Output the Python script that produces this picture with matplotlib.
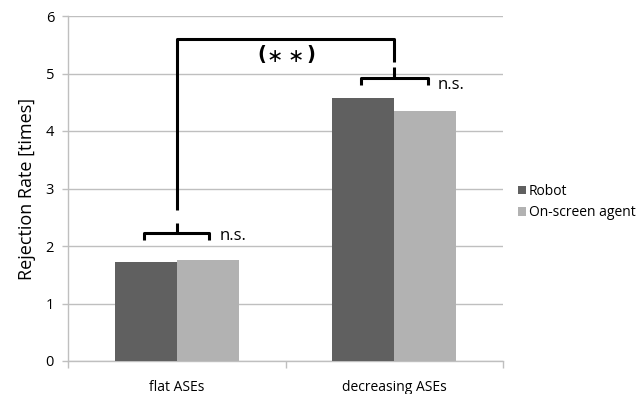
import matplotlib
matplotlib.use("Agg")
import matplotlib.pyplot as plt
import numpy as np

categories = ["flat ASEs", "decreasing ASEs"]
series_names = ["Robot", "On-screen agent"]
robot = [1.73, 4.58]
agent = [1.75, 4.35]
y_ticks = [0, 1, 2, 3, 4, 5, 6]

colors = ["#606060", "#b2b2b2"]
grid_color = "#bfbfbf"

fig = plt.figure(figsize=(6.4, 3.94), dpi=100)
ax = fig.add_axes([68 / 640, 33 / 394, 435 / 640, 345 / 394])

x = np.arange(len(categories))
w = 0.285
ax.bar(x - w / 2, robot, w, color=colors[0], label=series_names[0], zorder=3)
ax.bar(x + w / 2, agent, w, color=colors[1], label=series_names[1], zorder=3)

ax.set_xlim(-0.5, 1.5)
ax.set_ylim(0, 6)
ax.set_yticks(y_ticks)
ax.set_yticklabels([str(t) for t in y_ticks], fontsize=10.5, family="Open Sans")
ax.set_xticks(x)
ax.set_xticklabels(categories, fontsize=10, family="Open Sans")
ax.set_xticks([-0.5, 0.5, 1.5], minor=True)
ax.tick_params(axis="x", which="major", length=0, pad=14)
ax.tick_params(axis="x", which="minor", length=5, color=grid_color, width=1)
ax.tick_params(axis="y", length=4, color=grid_color, width=1, pad=6)
ax.yaxis.grid(True, color=grid_color, lw=1, zorder=0)
for s in ["top", "right"]:
    ax.spines[s].set_visible(False)
for s in ["left", "bottom"]:
    ax.spines[s].set_color(grid_color)
    ax.spines[s].set_linewidth(1)

ax.set_ylabel("Rejection Rate [times]", fontsize=13, family="Open Sans", labelpad=7)

lw = 2.2
kw = dict(color="black", lw=lw, solid_capstyle="butt", solid_joinstyle="round",
          zorder=5, clip_on=False)


def brace(cx, half, y_bar, y_end, y_tip):
    ax.plot([cx - half, cx - half, cx + half, cx + half],
            [y_end, y_bar, y_bar, y_end], **kw)
    ax.plot([cx, cx], [y_bar, y_tip], **kw)


# within-condition braces
brace(x[0], 0.15, 2.23, 2.10, 2.40)
brace(x[1], 0.155, 4.92, 4.80, 5.11)

# between-condition bracket
ax.plot([x[0], x[0], x[1], x[1]], [2.63, 5.605, 5.605, 5.20], **kw)

# significance mark, drawn glyph by glyph for wide spacing
sig_glyphs = ["(", "*", "*", ")"]
sig_x = [0.392, 0.452, 0.549, 0.618]
for g, gx in zip(sig_glyphs, sig_x):
    if g == "*":
        ax.text(gx, 5.30, "\u2217", ha="center", va="center", fontsize=14,
                family="DejaVu Sans", zorder=6)
    else:
        ax.text(gx, 5.33, g, ha="center", va="center", fontsize=14,
                family="DejaVu Sans", fontweight="bold", zorder=6)

ax.text(0.199, 2.17, "n.s.", ha="left", va="center", fontsize=12,
        family="Open Sans", zorder=6)
ax.text(1.2, 4.80, "n.s.", ha="left", va="center", fontsize=12,
        family="Open Sans", zorder=6)

fig.legend(loc="center left", bbox_to_anchor=(512 / 640, 1 - 202 / 394),
           frameon=False, prop={"family": "Open Sans", "size": 10},
           handlelength=0.6, handleheight=0.6, handletextpad=0.2,
           labelspacing=0.45, borderaxespad=0)

fig.savefig("out.png", dpi=100)
